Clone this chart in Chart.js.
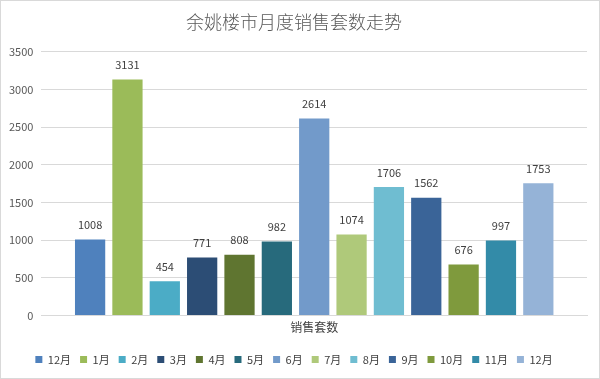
<!DOCTYPE html>
<html>
<head>
<meta charset="utf-8">
<script src="https://cdn.jsdelivr.net/npm/chart.js@4/dist/chart.umd.min.js"></script>
<style>
  html, body { margin: 0; padding: 0; background: #fff; }
  .box { width: 598px; height: 377px; border: 1px solid #d9d9d9; position: relative; }
  canvas { display: block; }
</style>
</head>
<body>
<div class="box"><canvas id="chart" width="598" height="377"></canvas></div>
<script>
// monthly sales counts
const categories = ['销售套数'];
const months = ['12月', '1月', '2月', '3月', '4月', '5月', '6月', '7月', '8月', '9月', '10月', '11月', '12月'];
const sales = [1008, 3131, 454, 771, 808, 982, 2614, 1074, 1706, 1562, 676, 997, 1753];
const colors = ['#4f81bd', '#9bbb59', '#4bacc6', '#2c4d75', '#5f7530', '#276a7c', '#729aca',
  '#afc97a', '#6fbdd1', '#3a6498', '#7f9a3d', '#338ba8', '#95b3d7'];

const font = "'Noto Sans CJK SC', 'Noto Sans', sans-serif";

// draw the value above each bar
const valueLabels = {
  id: 'valueLabels',
  afterDatasetsDraw(chart) {
    const ctx = chart.ctx;
    ctx.save();
    ctx.font = '11px ' + font;
    ctx.fillStyle = '#404040';
    ctx.textAlign = 'center';
    ctx.textBaseline = 'bottom';
    chart.data.datasets.forEach((ds, i) => {
      const bar = chart.getDatasetMeta(i).data[0];
      ctx.fillText(ds.data[0], bar.x, bar.y - 9);
    });
    ctx.restore();
  }
};

new Chart(document.getElementById('chart'), {
  type: 'bar',
  data: {
    labels: categories,
    datasets: months.map((m, i) => ({
      label: m,
      data: [sales[i]],
      backgroundColor: colors[i],
      categoryPercentage: 0.89,
      barPercentage: 0.81
    }))
  },
  options: {
    responsive: false,
    animation: false,
    layout: { padding: { left: 0, right: 12, top: 6, bottom: 3 } },
    plugins: {
      title: {
        display: true,
        text: '余姚楼市月度销售套数走势',
        color: '#595959',
        font: { family: font, size: 18, weight: '300' },
        padding: { top: 4, bottom: 19 }
      },
      legend: {
        position: 'bottom',
        labels: {
          color: '#404040',
          font: { family: font, size: 11 },
          boxWidth: 7,
          boxHeight: 7,
          padding: 9
        }
      },
      tooltip: { enabled: false }
    },
    scales: {
      x: {
        grid: { display: false },
        border: { color: '#d9d9d9' },
        ticks: { color: '#404040', font: { family: font, size: 12 }, padding: -3 },
        afterFit: s => { s.height += 13; }
      },
      y: {
        min: 0,
        max: 3500,
        ticks: {
          stepSize: 500,
          color: '#595959',
          font: { family: font, size: 11 },
          padding: 8,
          callback: v => String(v)
        },
        grid: { color: '#d9d9d9', drawTicks: false },
        border: { display: false }
      }
    }
  },
  plugins: [valueLabels]
});
</script>
</body>
</html>
